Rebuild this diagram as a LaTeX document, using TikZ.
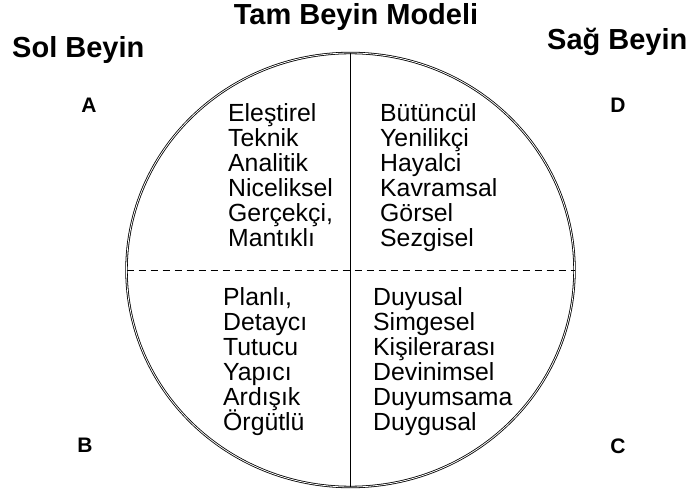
\documentclass[tikz,border=0pt]{standalone}
\usepackage{fontspec}
\setmainfont{Liberation Sans}
\usetikzlibrary{shapes.geometric}
\begin{document}
\begin{tikzpicture}[x=1pt,y=-1pt,
  heading/.style={anchor=base, inner sep=0pt, font=\fontsize{29}{34}\selectfont\bfseries},
  quad/.style={anchor=base, inner sep=0pt, font=\fontsize{21}{24}\selectfont\bfseries},
  trait/.style={anchor=base west, inner sep=0pt, font=\fontsize{24.8}{25}\selectfont},
  ring/.style={draw, ellipse, double, line width=0.8pt, double distance=0.8pt, inner sep=0pt, outer sep=0pt},
  divider/.style={line width=1pt},
  halfline/.style={line width=0.8pt, dash pattern=on 7pt off 5pt}]
\useasboundingbox (0,0) rectangle (696,497);
\fill[white] (0,0) rectangle (696,497);

\node[ring, minimum width=448pt, minimum height=434pt] (brain) at (350.5,270) {};
\draw[divider] (brain.north) -- (brain.south);
\draw[halfline] (brain.west) -- (brain.east);

\node[heading] (title) at (356,25) {Tam Beyin Modeli};
\node[heading, anchor=base west] (left) at (12,58) {Sol Beyin};
\node[heading, anchor=base west] (right) at (547,50) {Sağ Beyin};

\node[quad] (qa) at (89,113) {A};
\node[quad] (qd) at (618,113) {D};
\node[quad] (qb) at (85,452) {B};
\node[quad] (qc) at (618,453) {C};

\foreach \w [count=\i from 0] in {Eleştirel,Teknik,Analitik,Niceliksel,{Gerçekçi,},Mantıklı}
  \node[trait] (a\i) at (228,122+25*\i) {\w};
\foreach \w [count=\i from 0] in {Bütüncül,Yenilikçi,Hayalci,Kavramsal,Görsel,Sezgisel}
  \node[trait] (d\i) at (380,122+25*\i) {\w};
\foreach \w [count=\i from 0] in {{Planlı,},Detaycı,Tutucu,Yapıcı,Ardışık,Örgütlü}
  \node[trait] (b\i) at (223,305+25*\i) {\w};
\foreach \w [count=\i from 0] in {Duyusal,Simgesel,Kişilerarası,Devinimsel,Duyumsama,Duygusal}
  \node[trait] (c\i) at (373,305+25*\i) {\w};
\end{tikzpicture}
\end{document}
